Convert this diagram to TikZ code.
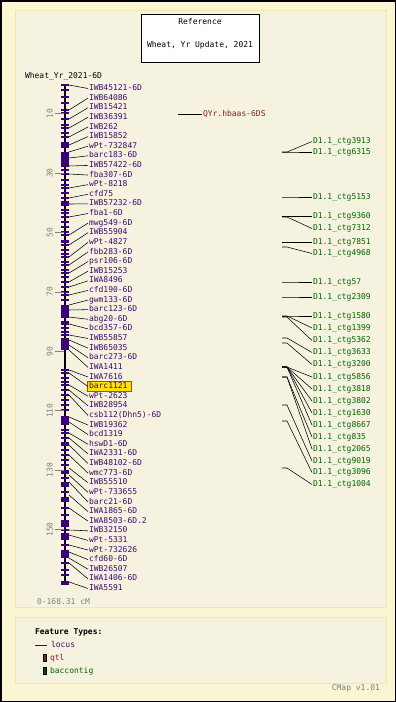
\documentclass[tikz,border=0pt]{standalone}
\usepackage{fontspec}
\setmonofont{DejaVu Sans Mono}
\definecolor{outerbg}{RGB}{250,246,210}
\definecolor{panelbg}{RGB}{245,243,223}
\definecolor{panelline}{RGB}{238,232,170}
\definecolor{locuscol}{RGB}{62,8,112}
\definecolor{tickcol}{RGB}{60,0,120}
\definecolor{qtlcol}{RGB}{140,30,30}
\definecolor{qtlbox}{RGB}{110,40,40}
\definecolor{baccol}{RGB}{0,100,0}
\definecolor{scalecol}{RGB}{128,128,128}
\definecolor{hlfill}{RGB}{255,226,0}
\definecolor{hldraw}{RGB}{210,60,0}
\begin{document}
\begin{tikzpicture}[x=1pt,y=-1pt,
  every node/.style={inner sep=0pt,outer sep=0pt,font=\ttfamily\fontsize{8}{9}\selectfont,text height=5.6pt,text depth=1.4pt},
  lbl/.style={anchor=west},
  conn/.style={line width=0.55pt,black},
  panel/.style={draw=panelline,fill=panelbg,line width=1pt}]
\useasboundingbox (0,0) rectangle (396,702);
\fill[outerbg] (0,0) rectangle (396,702);
\draw[black,line width=1.5pt] (0.75,0.75) rectangle (395.25,701.25);
\draw[panel] (15,10) rectangle (386,607);
\draw[panel] (15,617) rectangle (386,683);
% title
\draw[fill=white,line width=0.8pt] (141,14) rectangle (259,62);
\node (t1) at (200,22.5) {Reference};
\node (t2) at (200,45.5) {Wheat, Yr Update, 2021};
\node[lbl] (mapname) at (25,76) {Wheat\_Yr\_2021-6D};
% bar
\draw[line width=1.6pt] (65,84) -- (65,585);
\foreach \y in {85,90,97,103,110,113,119,125,128,133,137,170,174,180,185,188,193,198,210,213,217,222,227,232,235,245,250,254,257,262,265,270,273,277,282,287,292,295,300,322,324,328,332,335,370,373,378,382,385,390,395,400,405,410,430,433,438,443,445,450,455,460,465,478,492,508,515,530,545,563,570,575,582,584}
  \fill[tickcol] (61,\y-1) rectangle (69,\y+1);
\foreach \a/\b in {142/148,152/167,201/206,240/243,305/318,338/350,416/425,470/474,482/487,497/502,520/527,533/540,550/558}
  \fill[tickcol] (61,\a) rectangle (69,\b);
% scale
\foreach \v in {10,30,50,70,90,110,130,150}{
  \draw[scalecol,line width=0.6pt] (55,{84+2.97*\v}) -- (64,{84+2.97*\v});
  \node[rotate=90,text=scalecol] (s\v) at (50.5,{84+2.97*\v}) {\v};
}
\node[lbl,text=scalecol] (range) at (37,602) {0-168.31 cM};
% highlight
\draw[fill=hlfill,draw=hldraw,line width=0.8pt] (87,381.5) rectangle (131,391.5);
% loci
\foreach \t/\p [count=\i] in {IWB45121-6D/85,IWB64086/110,IWB15421/119,IWB36391/128,IWB262/137,IWB15852/145,wPt-732847/152,barc183-6D/158,IWB57422-6D/166,fba307-6D/174,wPt-8218/188,cfd75/198,IWB57232-6D/204,fba1-6D/217,mwg549-6D/235,IWB55904/245,wPt-4827/257,fbb283-6D/265,psr106-6D/273,IWB15253/282,IWA8496/287,cfd190-6D/295,gwm133-6D/305,barc123-6D/310,abg20-6D/317,bcd357-6D/324,IWB55857/335,IWB65035/340,barc273-6D/345,IWA1411/350,IWA7616/370,barc1121/373,wPt-2623/385,IWB28954/390,csb112(Dhn5)-6D/395,IWB19362/417,bcd1319/422,hswD1-6D/433,IWA2331-6D/438,IWB48102-6D/445,wmc773-6D/455,IWB55510/468,wPt-733655/475,barc21-6D/482,IWA1865-6D/495,IWA8503-6D.2/508,IWB32150/530,wPt-5331/535,wPt-732626/545,cfd60-6D/552,IWB26507/558,IWA1406-6D/563,IWA5591/582}{
  \node[lbl,text=locuscol] (L\i) at (89,{88.5+9.615*(\i-1)}) {\t};
  \coordinate (P\i) at (69,\p);
  \draw[conn] (P\i) -- ([xshift=-1pt]L\i.west);
}
% qtl
\node[lbl,text=qtlcol] (Q1) at (203,114.5) {QYr.hbaas-6DS};
\coordinate (QF1) at (178,114.5);
\draw[conn] (QF1) -- ([xshift=-1pt]Q1.west);
% baccontigs
\foreach \t/\ly/\fy [count=\i] in {3913/141.5/152,6315/152/152,5153/197/197,9360/216.5/216.5,7312/228.5/217,7851/242.5/242.5,4968/253.5/247,57/282/282,2309/297/297,1580/316/316,1399/328/316,5362/340.5/317,3633/352.5/338,3200/364.5/343,5856/377/367,3818/389/367,3802/401/367,1630/413/367,8667/425/367,835/437/377,2065/449/377,9019/461/405,3096/472.5/421,1004/484.5/468}{
  \node[lbl,text=baccol] (B\i) at (313,\ly) {D1.1\_ctg\t};
  \coordinate (F\i) at (282,\fy);
  \draw[conn] (F\i) -- ([xshift=5pt]F\i) -- ([xshift=-1pt]B\i.west);
}
% legend
\node[lbl,font=\ttfamily\bfseries\fontsize{8}{9}\selectfont] (lg) at (35,632) {Feature Types:};
\coordinate (lgl1) at (35,645);
\coordinate (lgl2) at (47,645);
\draw[locuscol,line width=0.8pt] (lgl1) -- (lgl2);
\node[lbl,text=locuscol] (lgloc) at (51,645) {locus};
\draw[fill=qtlbox,draw=black,line width=0.6pt] (43,654) rectangle (46,661.5);
\node[lbl,text=qtlcol] (lgqtl) at (50,658) {qtl};
\draw[fill=baccol!80!black,draw=black,line width=0.6pt] (43,667) rectangle (46,674.5);
\node[lbl,text=baccol] (lgbac) at (50,671) {baccontig};
\node[anchor=east,text=scalecol] (ver) at (380,688) {CMap v1.01};
\end{tikzpicture}
\end{document}
